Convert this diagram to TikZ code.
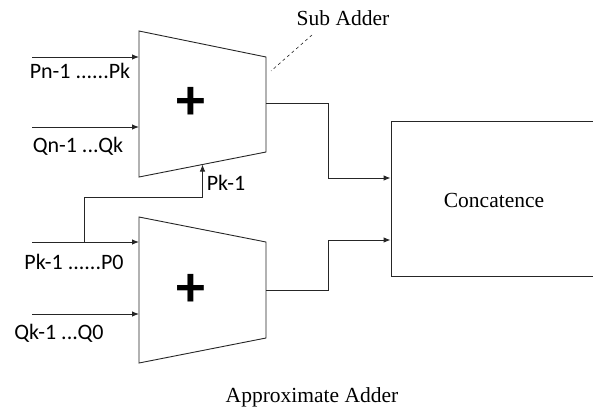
\documentclass[tikz,border=0pt]{standalone}
\usepackage{fontspec}
\setmainfont{Liberation Serif}
\newfontfamily\lblfont{Carlito}
\usetikzlibrary{arrows.meta,calc}

\begin{document}
\begin{tikzpicture}[x=1pt,y=-1pt,
  line width=0.9pt,
  adder/.style={draw=black!85},
  sig/.style={draw=black!85,-{Latex[length=7pt,width=5.5pt]}},
  wire/.style={draw=black!85},
  lbl/.style={font=\lblfont\fontsize{22}{26}\selectfont,inner sep=0pt},
  captxt/.style={font=\fontsize{21.5}{26}\selectfont,inner sep=0pt},
  plus/.style={font=\lblfont\bfseries\fontsize{58}{60}\selectfont,inner sep=0pt},
  box/.style={draw=black!85,minimum width=204pt,minimum height=155pt,inner sep=0pt}]

\useasboundingbox (0,0) rectangle (593,408);

% sub adder (upper)
\draw[adder] (139,31) coordinate (a1tl) -- (266,57) coordinate (a1tr)
  -- (266,152) coordinate (a1br) -- (139,177) coordinate (a1bl) -- cycle;
\node[plus] (a1) at (191,103) {+};

% approximate part (lower)
\draw[adder] (139,217) coordinate (a0tl) -- (266,242) coordinate (a0tr)
  -- (266,338) coordinate (a0br) -- (139,363) coordinate (a0bl) -- cycle;
\node[plus] (a0) at (191,290) {+};

\node[box] (cat) at (493,198.5) {};
\node[captxt] (catl) at (494,200) {Concatence};

% inputs
\coordinate (pn) at (32,57);
\coordinate (qn) at (32,127);
\coordinate (pk) at (32,242);
\coordinate (qk) at (32,314);
\draw[sig] (pn) -- (pn -| a1tl);
\draw[sig] (qn) -- (qn -| a1tl);
\draw[sig] (pk) -- (pk -| a0tl);
\draw[sig] (qk) -- (qk -| a0tl);
\node[lbl] (pnl) at (80,71) {Pn-1 ......Pk};
\node[lbl] (qnl) at (78,146) {Qn-1 ...Qk};
\node[lbl] (pkl) at (74,262) {Pk-1 ......P0};
\node[lbl] (qkl) at (59,333) {Qk-1 ...Q0};

% carry bit into the sub adder
\coordinate (tap) at (84,242);
\coordinate (cin) at ($(a1bl)!0.5!(a1br)$);
\draw[sig] (tap) -- ++(0,-45) -| (cin);
\node[lbl] (cinl) at (226,183) {Pk-1};

% outputs
\coordinate (o1) at (266,103);
\coordinate (o0) at (266,290);
\draw[sig] (o1) -- (328,103) |- ($(cat.west)+(0,-20.5)$);
\draw[sig] (o0) -- (328,290) |- ($(cat.west)+(0,41.5)$);

\node[captxt] (sub) at (343,18) {Sub Adder};
\draw[wire,dashed,line width=0.6pt] (312,35) -- (271,71);
\node[captxt] (title) at (312,397) {Approximate Adder};
\end{tikzpicture}
\end{document}
